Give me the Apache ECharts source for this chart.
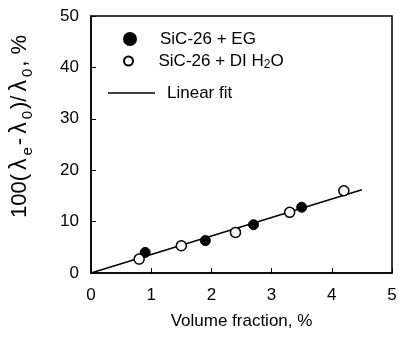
<!DOCTYPE html>
<html>
<head>
<meta charset="utf-8">
<script src="https://cdn.jsdelivr.net/npm/echarts@6/dist/echarts.min.js"></script>
<style>
  html, body { margin: 0; padding: 0; background: #fff; }
  #chart { width: 399px; height: 346px; }
</style>
</head>
<body>
<div id="chart"></div>
<script>
// SiC-26 in ethylene glycol
const egX = [0.9, 1.9, 2.7, 3.5]
const egY = [4.0, 6.3, 9.4, 12.8]

// SiC-26 in deionised water
const waterX = [0.8, 1.5, 2.4, 3.3, 4.2]
const waterY = [2.7, 5.3, 7.9, 11.8, 16.0]

// linear fit end points
const fitX = [0, 4.5]
const fitY = [0, 16.2]

const xTicks = [0, 1, 2, 3, 4, 5]
const yTicks = [0, 10, 20, 30, 40, 50]

const FONT = '"Liberation Sans", Arial, sans-serif'

const pairs = (xs, ys) => xs.map((x, i) => [x, ys[i]])

const chart = echarts.init(document.getElementById('chart'))

const axisCommon = {
  axisLine: { show: true, lineStyle: { color: '#000', width: 1.5 } },
  axisTick: { show: true, inside: true, length: 5, lineStyle: { color: '#000', width: 1 } },
  splitLine: { show: false },
  axisLabel: { color: '#000', fontSize: 17, fontFamily: FONT },
}

const subStyle = { fontSize: 12, fontFamily: FONT, color: '#000', verticalAlign: 'bottom', lineHeight: 10 }

// legend text shared by the three legend blocks
const legendText = (padLeft) => ({
  color: '#000', fontSize: 17, fontFamily: FONT, lineHeight: 20,
  padding: [0, 0, 0, padLeft],
  rich: { sub: subStyle },
})

chart.setOption({
  animation: false,
  backgroundColor: '#fff',
  textStyle: { fontFamily: FONT },
  grid: {
    left: 91, right: 7, top: 16, bottom: 73,
    outerBoundsMode: 'none',
    show: true, borderColor: '#000', borderWidth: 1.5,
  },
  xAxis: {
    ...axisCommon,
    type: 'value',
    min: xTicks[0],
    max: xTicks[xTicks.length - 1],
    interval: 1,
    axisLabel: { ...axisCommon.axisLabel, margin: 14 },
    name: 'Volume fraction, %',
    nameLocation: 'middle',
    nameGap: 40,
    nameTextStyle: { color: '#000', fontSize: 17, fontFamily: FONT },
  },
  yAxis: {
    ...axisCommon,
    type: 'value',
    min: yTicks[0],
    max: yTicks[yTicks.length - 1],
    interval: 10,
    axisLabel: { ...axisCommon.axisLabel, margin: 12 },
    name: '100({lam|λ}{sub|e}-{lam|λ}{sub|0})/{lam|λ}{sub|0}, %',
    nameLocation: 'middle',
    nameGap: 56,
    nameTextStyle: {
      color: '#000', fontSize: 22, fontFamily: FONT, lineHeight: 30,
      padding: [0, 0, 0, 36],
      rich: {
        lam: { fontSize: 23, fontFamily: FONT, color: '#000', padding: [0, 3, 0, 4] },
        sub: { fontSize: 15, fontFamily: FONT, color: '#000', verticalAlign: 'bottom', lineHeight: 14, padding: [0, 2, 0, 0] },
      },
    },
  },
  legend: [
    {
      data: ['SiC-26 + EG'],
      left: 118,
      top: 24,
      itemWidth: 24,
      itemHeight: 12,
      textStyle: legendText(13),
    },
    {
      data: ['SiC-26 + DI H2O'],
      left: 118,
      top: 46,
      itemWidth: 24,
      itemHeight: 9,
      formatter: () => 'SiC-26 + DI H{sub|2}O',
      textStyle: legendText(13),
    },
    {
      data: [{ name: 'Linear fit', icon: 'rect', itemStyle: { color: '#000' } }],
      left: 103,
      top: 78,
      itemWidth: 47,
      itemHeight: 1.5,
      textStyle: legendText(7),
    },
  ],
  series: [
    {
      name: 'Linear fit',
      type: 'line',
      data: pairs(fitX, fitY),
      symbol: 'none',
      lineStyle: { color: '#000', width: 1.5 },
      itemStyle: { color: '#000' },
      z: 1,
    },
    {
      name: 'SiC-26 + EG',
      type: 'scatter',
      data: pairs(egX, egY),
      symbol: 'circle',
      symbolSize: 10,
      itemStyle: { color: '#000', borderColor: '#000', borderWidth: 1, opacity: 1 },
      z: 3,
    },
    {
      name: 'SiC-26 + DI H2O',
      type: 'scatter',
      data: pairs(waterX, waterY),
      symbol: 'circle',
      symbolSize: 10,
      itemStyle: { color: '#fff', borderColor: '#000', borderWidth: 1.5, opacity: 1 },
      z: 3,
    },
  ],
})
</script>
</body>
</html>
